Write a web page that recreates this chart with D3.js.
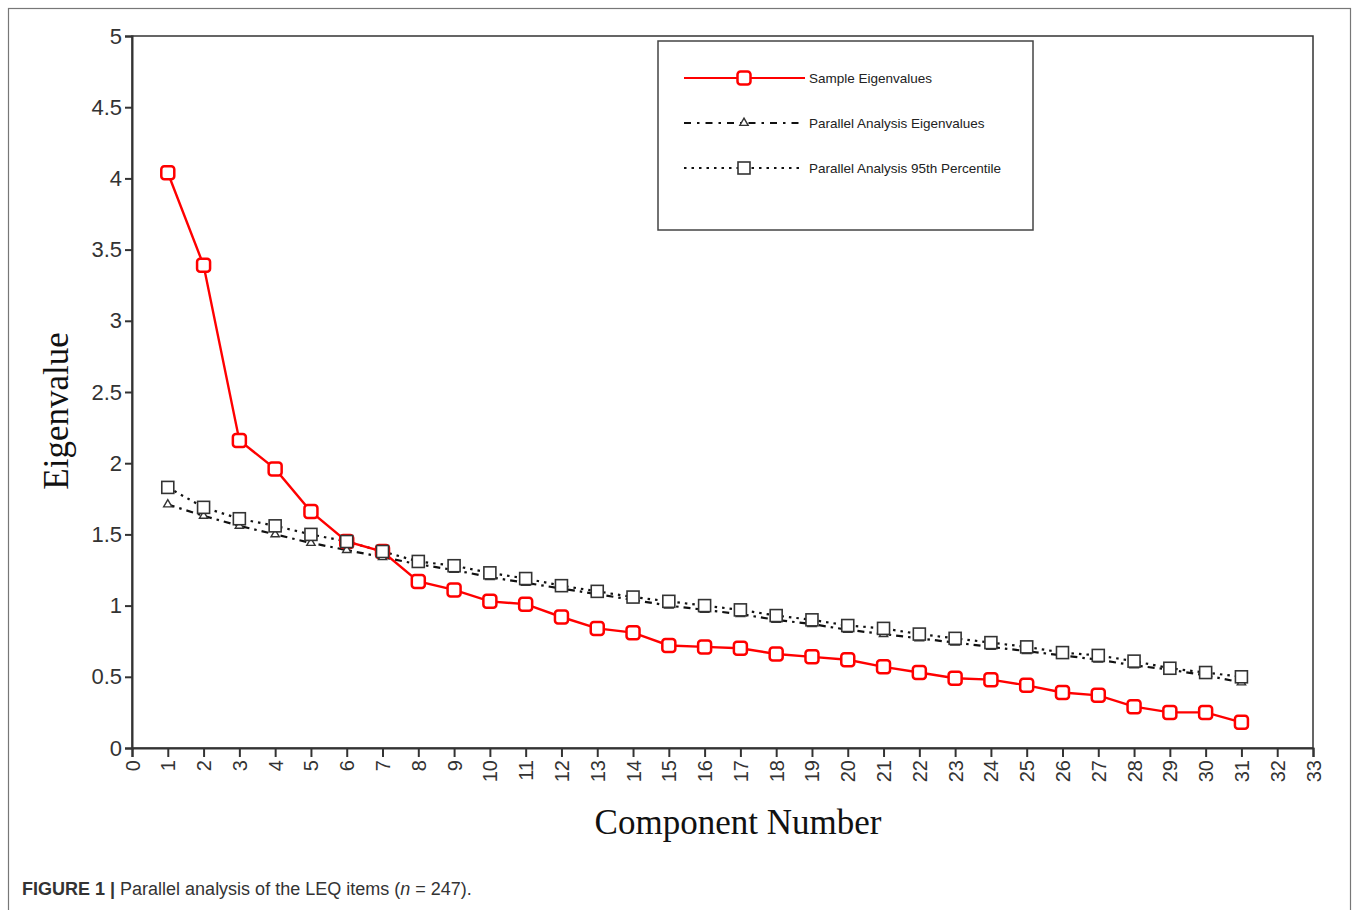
<!DOCTYPE html>
<html>
<head>
<meta charset="utf-8">
<script src="https://cdn.jsdelivr.net/npm/d3@7"></script>
<style>
  body { margin: 0; background: #fff; }
  svg { display: block; }
</style>
</head>
<body>
<div class="chart"></div>
<script>
'use strict'

const components = d3.range(1, 32)
const sampleEigen = [4.04, 3.39, 2.16, 1.96, 1.66, 1.45, 1.38, 1.17, 1.11, 1.03, 1.01, 0.92, 0.84, 0.81,
  0.72, 0.71, 0.70, 0.66, 0.64, 0.62, 0.57, 0.53, 0.49, 0.48, 0.44, 0.39, 0.37, 0.29, 0.25, 0.25, 0.18]
const parallelEigen = [1.71, 1.63, 1.56, 1.50, 1.44, 1.39, 1.34, 1.29, 1.25, 1.20, 1.16, 1.12, 1.08, 1.04,
  1.00, 0.97, 0.94, 0.90, 0.87, 0.83, 0.80, 0.77, 0.74, 0.71, 0.68, 0.65, 0.62, 0.58, 0.55, 0.51, 0.46]
const parallel95 = [1.83, 1.69, 1.61, 1.56, 1.50, 1.45, 1.38, 1.31, 1.28, 1.23, 1.19, 1.14, 1.10, 1.06,
  1.03, 1.00, 0.97, 0.93, 0.90, 0.86, 0.84, 0.80, 0.77, 0.74, 0.71, 0.67, 0.65, 0.61, 0.56, 0.53, 0.50]
const xTicks = d3.range(0, 34)
const yTicks = [0, 0.5, 1, 1.5, 2, 2.5, 3, 3.5, 4, 4.5, 5]
const legendLabels = ['Sample Eigenvalues', 'Parallel Analysis Eigenvalues', 'Parallel Analysis 95th Percentile']

const width = 1358
const height = 910
const margin = { left: 132, top: 36, right: 45, bottom: 162 }

const svg = d3.select('.chart').append('svg')
    .attr('width', width)
    .attr('height', height)

// outer figure frame
svg.append('rect')
    .attr('x', 8.5).attr('y', 8.5)
    .attr('width', width - 16).attr('height', height)
    .style('fill', 'none').style('stroke', '#777').style('stroke-width', 1.2)

const x = d3.scaleLinear().domain([0, 33]).range([margin.left, width - margin.right])
const y = d3.scaleLinear().domain([0, 5]).range([height - margin.bottom, margin.top])

// plot frame
svg.append('rect')
    .attr('x', x(0)).attr('y', y(5))
    .attr('width', x(33) - x(0)).attr('height', y(0) - y(5))
    .style('fill', 'none').style('stroke', '#333').style('stroke-width', 1.5)

const yAxis = svg.append('g')
    .attr('transform', 'translate(' + x(0) + ',0)')
    .call(d3.axisLeft(y).tickValues(yTicks).tickSize(7).tickPadding(3).tickFormat(d3.format('~g')))
const xAxis = svg.append('g')
    .attr('transform', 'translate(0,' + y(0) + ')')
    .call(d3.axisBottom(x).tickValues(xTicks).tickSize(9).tickFormat(d3.format('d')))

yAxis.selectAll('text')
    .style('font-size', '22px')
xAxis.selectAll('text')
    .attr('transform', 'rotate(-90)')
    .attr('x', -12).attr('y', 0).attr('dy', '0.35em')
    .style('text-anchor', 'end')
    .style('font-size', '20px')

svg.selectAll('.domain, .tick line')
    .style('stroke', '#333').style('stroke-width', 2)
svg.selectAll('.tick text')
    .style('font-family', 'Liberation Sans, Arial, sans-serif').style('fill', '#333')

// axis titles
svg.append('text')
    .attr('transform', 'translate(68,411) rotate(-90)')
    .style('text-anchor', 'middle')
    .style('font-family', 'Liberation Serif, Times New Roman, serif')
    .style('font-size', '35px').style('fill', '#111')
    .text('Eigenvalue')
svg.append('text')
    .attr('x', 738).attr('y', 834)
    .style('text-anchor', 'middle')
    .style('font-family', 'Liberation Serif, Times New Roman, serif')
    .style('font-size', '35px').style('fill', '#111')
    .text('Component Number')

const line = d3.line().x((d, i) => x(components[i])).y(d => y(d))

const series = [
  { values: parallel95, color: '#111', dash: '2.5,5', width: 2.2, marker: 'square' },
  { values: parallelEigen, color: '#111', dash: '7,5,2.5,5', width: 2.2, marker: 'triangle' },
  { values: sampleEigen, color: '#f00', dash: null, width: 2.4, marker: 'redsquare' }
]

function drawMarker(sel, kind) {
  if (kind === 'redsquare') {
    sel.append('rect')
        .attr('x', -6.5).attr('y', -6.5).attr('width', 13).attr('height', 13).attr('rx', 3)
        .style('fill', '#fff').style('stroke', '#f00').style('stroke-width', 2.5)
  } else if (kind === 'square') {
    sel.append('rect')
        .attr('x', -6).attr('y', -6).attr('width', 12).attr('height', 12)
        .style('fill', '#fff').style('stroke', '#333').style('stroke-width', 1.6)
  } else {
    sel.append('path')
        .attr('d', d3.symbol(d3.symbolTriangle, 30)())
        .style('fill', '#fff').style('stroke', '#333').style('stroke-width', 1.4)
  }
}

series.forEach(s => {
  svg.append('path')
      .datum(s.values)
      .attr('d', line)
      .style('fill', 'none').style('stroke', s.color)
      .style('stroke-width', s.width)
      .style('stroke-dasharray', s.dash)
})
// markers drawn after all lines
series.slice().reverse().forEach(s => {
  svg.selectAll(null)
      .data(s.values)
    .enter().append('g')
      .attr('transform', (d, i) => 'translate(' + x(components[i]) + ',' + y(d) + ')')
      .each(function() { drawMarker(d3.select(this), s.marker) })
})

// legend
const legend = svg.append('g')
svg.append('rect')
    .attr('x', 658).attr('y', 41).attr('width', 375).attr('height', 189)
    .style('fill', 'none').style('stroke', '#444').style('stroke-width', 1.5)

const legendRows = [
  { label: legendLabels[0], color: '#f00', dash: null, x2: 805, marker: 'redsquare' },
  { label: legendLabels[1], color: '#111', dash: '7,6,2.5,6', x2: 800, marker: 'triangle' },
  { label: legendLabels[2], color: '#111', dash: '2.5,5', x2: 803, marker: 'square' }
]
legendRows.forEach((r, i) => {
  const yy = 78 + i * 45
  legend.append('line')
      .attr('x1', 684).attr('x2', r.x2).attr('y1', yy).attr('y2', yy)
      .style('stroke', r.color).style('stroke-width', 2.2).style('stroke-dasharray', r.dash)
  drawMarker(legend.append('g').attr('transform', 'translate(744,' + yy + ')'), r.marker)
  legend.append('text')
      .attr('x', 809).attr('y', yy + 5)
      .style('font-family', 'Liberation Sans, Arial, sans-serif')
      .style('font-size', '13.5px').style('fill', '#222')
      .text(r.label)
})

// caption
const caption = svg.append('text')
    .attr('x', 22).attr('y', 895)
    .style('font-family', 'Liberation Sans, Helvetica, Arial, sans-serif')
    .style('font-size', '18px').style('fill', '#333')
caption.append('tspan').style('font-weight', 'bold').text('FIGURE 1 | ')
caption.append('tspan').text('Parallel analysis of the LEQ items (')
caption.append('tspan').style('font-style', 'italic').text('n')
caption.append('tspan').text(' = 247).')
</script>
</body>
</html>
